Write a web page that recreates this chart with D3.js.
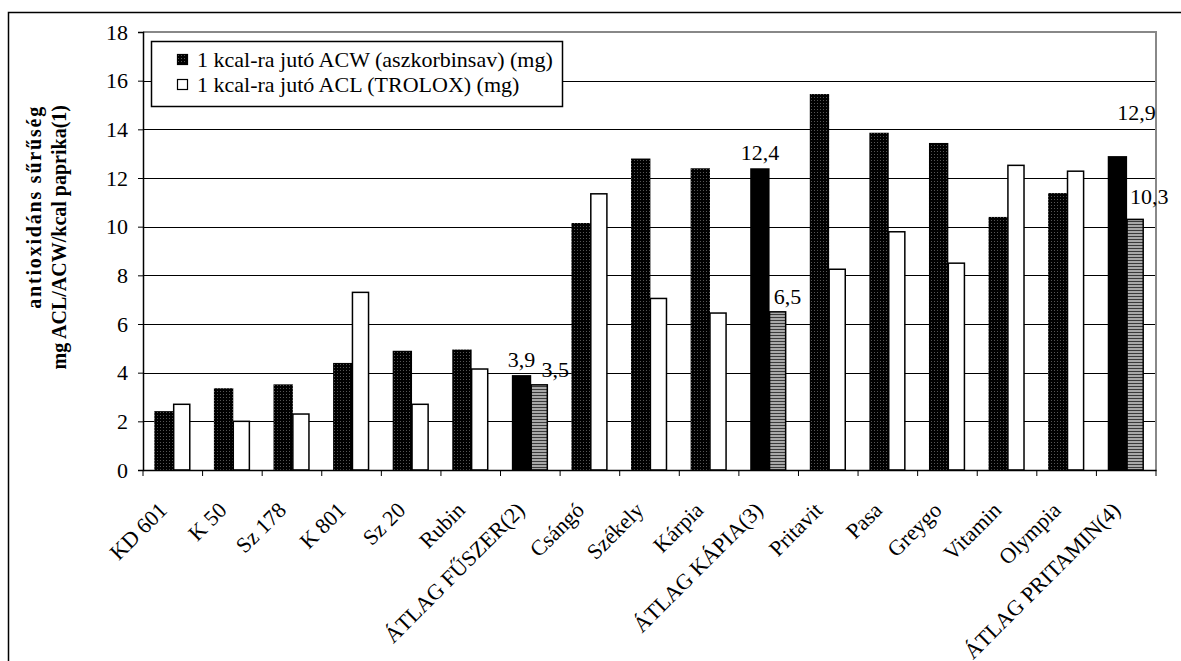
<!DOCTYPE html>
<html><head><meta charset="utf-8">
<script src="https://cdn.jsdelivr.net/npm/d3@7"></script>
<style>body{margin:0;background:#fff}svg{display:block}</style>
</head><body><svg id="c" width="1181" height="661"></svg>
<script>
// ---- data ----
const categories = ["KD 601","K 50","Sz 178","K 801","Sz 20","Rubin","ÁTLAG FŰSZER(2)","Csángó","Székely","Kárpia","ÁTLAG KÁPIA(3)","Pritavit","Pasa","Greygo","Vitamin","Olympia","ÁTLAG PRITAMIN(4)"];
const acwValues = [2.42,3.36,3.52,4.4,4.9,4.95,3.9,10.15,12.8,12.4,12.4,15.45,13.86,13.44,10.4,11.38,12.9];
const aclValues = [2.7,2.0,2.3,7.3,2.7,4.15,3.5,11.35,7.05,6.45,6.5,8.25,9.79,8.5,12.52,12.28,10.3];
const averageCategories = ["ÁTLAG FŰSZER(2)","ÁTLAG KÁPIA(3)","ÁTLAG PRITAMIN(4)"];
const seriesNames = ["1 kcal-ra jutó ACW (aszkorbinsav) (mg)","1 kcal-ra jutó ACL (TROLOX) (mg)"];
const yTicks = [0,2,4,6,8,10,12,14,16,18];
const yTitleLines = ["antioxidáns sűrűség","mg ACL/ACW/kcal paprika(1)"];

// ---- layout ----
const svg = d3.select("#c");
const L = 143, R = 1156, T = 32, B = 470;
const FONT = "'Liberation Serif','Times New Roman',serif";
const FS = 22;

const x = d3.scaleBand().domain(categories).range([L, R]).paddingInner(0).paddingOuter(0);
const y = d3.scaleLinear().domain([0, 18]).range([B, T]);
const bw = x.bandwidth();
const off1 = bw * 0.19, w1 = bw * 0.325, w2 = bw * 0.27;
// label nudges (dx,dy) per average category: [ACW label, ACL label]
const labelNudge = [[[0,-8],[16,-8]],[[0,-8],[10,-8]],[[19,-36],[14,-15]]];

// patterns
const defs = svg.append("defs");
const dot = defs.append("pattern").attr("id","dots").attr("patternUnits","userSpaceOnUse").attr("width",3).attr("height",3);
dot.append("rect").attr("width",3).attr("height",3).attr("fill","#000");
dot.append("rect").attr("x",1).attr("y",1).attr("width",1).attr("height",1).attr("fill","#555");
const hat = defs.append("pattern").attr("id","hatch").attr("patternUnits","userSpaceOnUse").attr("width",4).attr("height",3);
hat.append("rect").attr("width",4).attr("height",3).attr("fill","#a8a8a8");
hat.append("rect").attr("y",2).attr("width",4).attr("height",1).attr("fill","#3a3a3a");

// outer border
svg.append("rect").attr("x",8.5).attr("y",12.5).attr("width",1200).attr("height",700)
  .attr("fill","#fff").attr("stroke","#000").attr("stroke-width",1.5);

// gridlines
svg.append("g").selectAll("line").data(yTicks.filter(d => d > 0 && d < 18)).join("line")
  .attr("x1", L).attr("x2", R).attr("y1", d => Math.round(y(d))+0.5).attr("y2", d => Math.round(y(d))+0.5)
  .attr("stroke","#000").attr("stroke-width",1);
// plot border (top/right gray)
svg.append("path").attr("d", `M${L},${T} H${R} V${B}`).attr("fill","none").attr("stroke","#888").attr("stroke-width",2);

const isAvg = c => averageCategories.includes(c);

// ACW bars
svg.append("g").selectAll("rect").data(categories).join("rect")
  .attr("x", (c) => x(c) + off1)
  .attr("y", (c,i) => y(acwValues[i]))
  .attr("width", w1)
  .attr("height", (c,i) => y(0) - y(acwValues[i]))
  .attr("fill", c => isAvg(c) ? "#000" : "url(#dots)");

// ACL bars
svg.append("g").selectAll("rect").data(categories).join("rect")
  .attr("x", (c) => x(c) + off1 + w1)
  .attr("y", (c,i) => y(aclValues[i]))
  .attr("width", w2)
  .attr("height", (c,i) => y(0) - y(aclValues[i]))
  .attr("fill", c => isAvg(c) ? "url(#hatch)" : "#fff")
  .attr("stroke","#000").attr("stroke-width",1.5);

// axes
const yAxis = d3.axisLeft(y).tickValues(yTicks).tickSize(5).tickPadding(10).tickFormat(d3.format("d"));
const gy = svg.append("g").attr("transform",`translate(${L},0)`).call(yAxis);
gy.select(".domain").attr("stroke","#000").attr("stroke-width",1.5);
gy.selectAll(".tick line").attr("stroke","#000");
gy.selectAll("text").attr("font-family",FONT).attr("font-size",FS).attr("fill","#000");

const xAxis = d3.axisBottom(x).tickSize(0).tickFormat("");
const gx = svg.append("g").attr("transform",`translate(0,${B})`).call(xAxis);
gx.select(".domain").attr("stroke","#000").attr("stroke-width",1.5);
// category boundary ticks
svg.append("g").selectAll("line").data(categories.concat(["__end"])).join("line")
  .attr("x1", (c,i) => L + i*bw).attr("x2", (c,i) => L + i*bw)
  .attr("y1", B).attr("y2", B+6).attr("stroke","#000").attr("stroke-width",1);

// x labels
svg.append("g").selectAll("text").data(categories).join("text")
  .attr("transform", c => `translate(${x(c)+bw/2-15},${B+31}) rotate(-45)`)
  .attr("text-anchor","end").attr("dy","0.68em")
  .attr("font-family",FONT).attr("font-size",FS).attr("fill","#000")
  .text(c => c);

// y title (both lines end-aligned at the top, as in the reference)
yTitleLines.forEach((t,i) => {
  svg.append("text").attr("transform",`translate(${41 + i*25},105) rotate(-90)`)
    .attr("font-family",FONT).attr("font-size",20).attr("font-weight","bold")
    .attr("letter-spacing", i === 0 ? 1.8 : 0)
    .attr("text-anchor","end").text(t);
});

// data labels for average categories
const fmt = v => d3.format(".1f")(v).replace(".", ",");
averageCategories.forEach((c,k) => {
  const i = categories.indexOf(c);
  const n = labelNudge[k];
  svg.append("text").attr("x", x(c)+off1+w1/2 + n[0][0]).attr("y", y(acwValues[i]) + n[0][1])
    .attr("text-anchor","middle").attr("font-family",FONT).attr("font-size",FS).text(fmt(acwValues[i]));
  svg.append("text").attr("x", x(c)+off1+w1+w2/2 + n[1][0]).attr("y", y(aclValues[i]) + n[1][1])
    .attr("text-anchor","middle").attr("font-family",FONT).attr("font-size",FS).text(fmt(aclValues[i]));
});

// legend
const lg = svg.append("g");
lg.append("rect").attr("x",151.5).attr("y",41.5).attr("width",411).attr("height",65)
  .attr("fill","#fff").attr("stroke","#000").attr("stroke-width",1.5);
seriesNames.forEach((s,i) => {
  lg.append("rect").attr("x",177.5).attr("y",54.5 + i*25).attr("width",10).attr("height",10)
    .attr("fill", i===0 ? "url(#dots)" : "#fff").attr("stroke","#000").attr("stroke-width",1.2);
  lg.append("text").attr("x",197).attr("y",67 + i*25)
    .attr("font-family",FONT).attr("font-size",FS).attr("fill","#000").text(s);
});
</script>
</body></html>
